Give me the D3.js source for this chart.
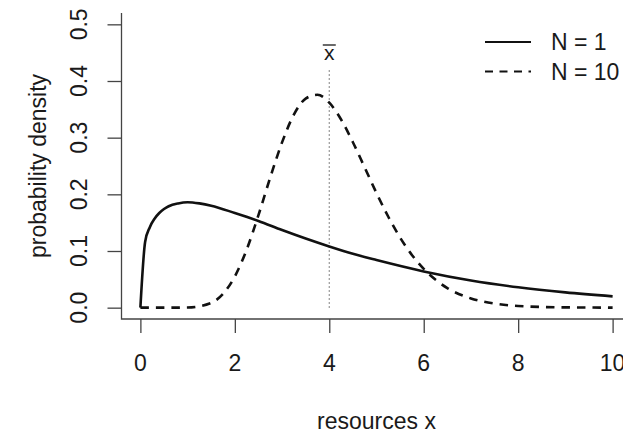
<!DOCTYPE html>
<html>
<head>
<meta charset="utf-8">
<script src="https://cdn.jsdelivr.net/npm/d3@7"></script>
<style>
  body { margin: 0; background: #fff; }
  svg text { font-family: "Liberation Sans", Arial, sans-serif; fill: #1a1a1a; }
</style>
</head>
<body>
<div id="chart"></div>
<script>
// density curves
var xN1 = [0, 0.1, 0.2, 0.3, 0.4, 0.5, 0.6, 0.8, 1, 1.25, 1.5, 2, 2.5, 3, 3.5, 4, 4.5, 5, 6, 7, 8, 9, 10];
var yN1 = [0, 0.116, 0.142, 0.157, 0.167, 0.174, 0.179, 0.184, 0.186, 0.184, 0.180, 0.167, 0.153, 0.137, 0.122, 0.108, 0.095, 0.084, 0.064, 0.048, 0.036, 0.027, 0.020];
var xN10 = [0, 0.5, 1, 1.5, 1.75, 2, 2.25, 2.5, 2.75, 3, 3.25, 3.5, 3.75, 4, 4.25, 4.5, 4.75, 5, 5.25, 5.5, 5.75, 6, 6.5, 7, 7.5, 8, 9, 10];
var yN10 = [0, 0, 0.0003, 0.0084, 0.0244, 0.0551, 0.1023, 0.1632, 0.2297, 0.2917, 0.3406, 0.369, 0.3757, 0.3617, 0.332, 0.292, 0.2473, 0.2023, 0.1604, 0.1237, 0.093, 0.0684, 0.0346, 0.0163, 0.0072, 0.003, 0.0005, 0.0001];
var xTicks = [0, 2, 4, 6, 8, 10];
var yTicks = [0, 0.1, 0.2, 0.3, 0.4, 0.5];
var legendLabels = ["N = 1", "N = 10"];
var meanX = 4;
var meanTop = 0.42;

var width = 623, height = 433;
var fontSize = 23;

var svg = d3.select("#chart").append("svg")
    .attr("width", width)
    .attr("height", height);

// plot region (R style, 4% padding on each side)
var x = d3.scaleLinear().domain([-0.4, 10.4]).range([121.5, 631.5]);
var y = d3.scaleLinear().domain([-0.02, 0.52]).range([319, 13]);

// L-shaped box
svg.append("path")
    .attr("d", "M" + x(-0.4) + "," + y(0.52) + "V" + y(-0.02) + "H" + x(10.4))
    .attr("fill", "none")
    .attr("stroke", "#444")
    .attr("stroke-width", 1.3);

// x axis
var gx = svg.append("g")
    .attr("transform", "translate(0," + y(-0.02) + ")")
    .call(d3.axisBottom(x).tickValues(xTicks).tickSize(14).tickSizeOuter(0).tickFormat(""));
gx.select(".domain").remove();
gx.selectAll("line").attr("stroke", "#444").attr("stroke-width", 1.3);

svg.selectAll(".xlab")
    .data(xTicks)
    .enter().append("text")
    .attr("class", "xlab")
    .attr("x", function(d) { return x(d); })
    .attr("y", 371)
    .attr("text-anchor", "middle")
    .style("font-size", fontSize + "px")
    .text(function(d) { return d; });

// y axis
var gy = svg.append("g")
    .attr("transform", "translate(" + x(-0.4) + ",0)")
    .call(d3.axisLeft(y).tickValues(yTicks).tickSize(14).tickSizeOuter(0).tickFormat(""));
gy.select(".domain").remove();
gy.selectAll("line").attr("stroke", "#444").attr("stroke-width", 1.3);

svg.selectAll(".ylab")
    .data(yTicks)
    .enter().append("text")
    .attr("class", "ylab")
    .attr("transform", function(d) { return "translate(87," + y(d) + ") rotate(-90)"; })
    .attr("text-anchor", "middle")
    .style("font-size", fontSize + "px")
    .text(d3.format(".1f"));

// axis titles
svg.append("text")
    .attr("x", x(5))
    .attr("y", 429)
    .attr("text-anchor", "middle")
    .style("font-size", fontSize + "px")
    .text("resources x");

svg.append("text")
    .attr("transform", "translate(46," + y(0.25) + ") rotate(-90)")
    .attr("text-anchor", "middle")
    .style("font-size", fontSize + "px")
    .text("probability density");

// mean line
svg.append("line")
    .attr("x1", x(meanX)).attr("x2", x(meanX))
    .attr("y1", y(0)).attr("y2", y(meanTop))
    .attr("stroke", "#777")
    .attr("stroke-width", 1.2)
    .attr("stroke-dasharray", "1.3,2.7");

var xbar = svg.append("text")
    .attr("x", x(meanX))
    .attr("y", 60)
    .attr("text-anchor", "middle")
    .style("font-size", "21px")
    .text("x");
svg.append("line")
    .attr("x1", x(meanX) - 6.5).attr("x2", x(meanX) + 6.5)
    .attr("y1", 45).attr("y2", 45)
    .attr("stroke", "#1a1a1a")
    .attr("stroke-width", 1.3);

// curves
var line = d3.line()
    .x(function(d) { return x(d[0]); })
    .y(function(d) { return y(d[1]); })
    .curve(d3.curveMonotoneX);

svg.append("path")
    .datum(d3.zip(xN1, yN1))
    .attr("d", line)
    .attr("fill", "none")
    .attr("stroke", "#111")
    .attr("stroke-width", 2.6);

svg.append("path")
    .datum(d3.zip(xN10, yN10))
    .attr("d", line)
    .attr("fill", "none")
    .attr("stroke", "#111")
    .attr("stroke-width", 2.6)
    .attr("stroke-dasharray", "8.5,7");

// legend
var legend = svg.selectAll(".legend")
    .data(legendLabels)
    .enter().append("g")
    .attr("class", "legend")
    .attr("transform", function(d, i) { return "translate(0," + (42 + i * 29.5) + ")"; });

legend.append("line")
    .attr("x1", 485).attr("x2", 531)
    .attr("y1", 0).attr("y2", 0)
    .attr("stroke", "#111")
    .attr("stroke-width", 2.2)
    .attr("stroke-dasharray", function(d, i) { return i ? "8,6.5" : null; });

legend.append("text")
    .attr("x", 551)
    .attr("y", 8)
    .style("font-size", fontSize + "px")
    .text(function(d) { return d; });
</script>
</body>
</html>
